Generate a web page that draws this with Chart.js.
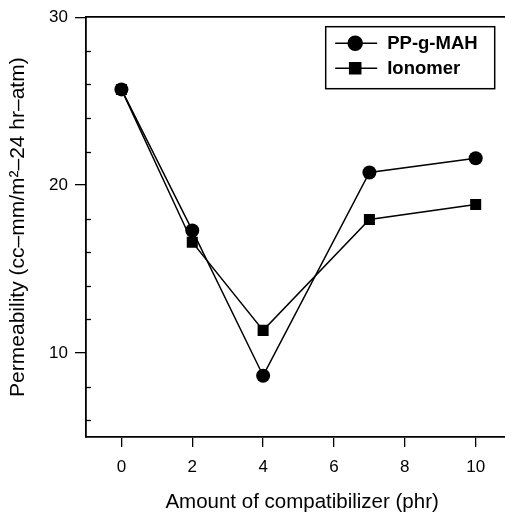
<!DOCTYPE html>
<html>
<head>
<meta charset="utf-8">
<script src="https://cdn.jsdelivr.net/npm/chart.js@4/dist/chart.umd.min.js"></script>
<style>
  html, body { margin: 0; padding: 0; background: #fff; overflow: hidden; }
  #wrap { width: 505px; height: 515px; overflow: hidden; }
</style>
</head>
<body>
<div id="wrap"><canvas id="c" width="526" height="515"></canvas></div>
<script>
// ---- data ----
const compatAmount = [0, 2, 4, 7, 10];
const ppgMah = [25.7, 17.3, 8.65, 20.75, 21.6];
const ionomer = [25.7, 16.6, 11.35, 17.95, 18.85];
const xTickValues = [0, 2, 4, 6, 8, 10];
const yMajorTicks = [10, 20, 30];
const yMinorTicks = [6, 8, 12, 14, 16, 18, 22, 24, 26, 28];
const seriesNames = ['PP-g-MAH', 'Ionomer'];
const xTitle = 'Amount of compatibilizer (phr)';
const yTitle = 'Permeability (cc\u2013mm/m\u00B2\u201324 hr\u2013atm)';

const FONT = '"Liberation Sans", Arial, Helvetica, sans-serif';

const minorTicksPlugin = {
  id: 'minorTicks',
  afterDraw(chart) {
    const ctx = chart.ctx, y = chart.scales.y, left = chart.chartArea.left;
    ctx.save();
    ctx.strokeStyle = '#000';
    ctx.lineWidth = 1.3;
    yMinorTicks.forEach(v => {
      const py = Math.round(y.getPixelForValue(v)) + 0.5;
      ctx.beginPath();
      ctx.moveTo(left, py);
      ctx.lineTo(left + 5, py);
      ctx.stroke();
    });
    ctx.restore();
  }
};

const boxLegendPlugin = {
  id: 'boxLegend',
  afterDraw(chart) {
    const ctx = chart.ctx, area = chart.chartArea;
    const bw = 169, bh = 62;
    const bx = area.right - 24 - bw, by = area.top + 9;
    ctx.save();
    ctx.strokeStyle = '#000';
    ctx.lineWidth = 1.5;
    ctx.strokeRect(bx + 0.5, by + 0.5, bw, bh);
    chart.data.datasets.forEach((ds, i) => {
      const cy = by + 17 + i * 25;
      ctx.lineWidth = 1.5;
      ctx.beginPath();
      ctx.moveTo(bx + 10, cy);
      ctx.lineTo(bx + 52, cy);
      ctx.stroke();
      ctx.fillStyle = '#000';
      Chart.helpers.drawPoint(ctx, {
        pointStyle: ds.pointStyle,
        radius: ds.pointRadius,
        borderWidth: 1
      }, bx + 30, cy);
      ctx.font = 'bold 18.5px ' + FONT;
      ctx.textBaseline = 'middle';
      ctx.textAlign = 'left';
      ctx.fillText(ds.label, bx + 62, cy + 1);
    });
    ctx.restore();
  }
};

new Chart(document.getElementById('c'), {
  type: 'line',
  data: {
    datasets: [
      {
        label: seriesNames[0],
        data: compatAmount.map((x, i) => ({ x, y: ppgMah[i] })),
        borderColor: '#000', backgroundColor: '#000',
        borderWidth: 1.5, pointStyle: 'circle', pointRadius: 7,
        pointBorderWidth: 0, tension: 0
      },
      {
        label: seriesNames[1],
        data: compatAmount.map((x, i) => ({ x, y: ionomer[i] })),
        borderColor: '#000', backgroundColor: '#000',
        borderWidth: 1.5, pointStyle: 'rect', pointRadius: 7.8,
        pointBorderWidth: 0, tension: 0
      }
    ]
  },
  options: {
    responsive: false,
    animation: false,
    devicePixelRatio: 1,
    layout: { padding: 0 },
    plugins: { legend: { display: false }, tooltip: { enabled: false } },
    scales: {
      x: {
        type: 'linear', position: 'bottom', min: -1, max: 11.2,
        afterBuildTicks: s => { s.ticks = xTickValues.map(v => ({ value: v })); },
        afterFit: s => { s.height = 78; },
        grid: { drawOnChartArea: false, drawTicks: true, tickLength: 10, color: '#000', lineWidth: 1.3 },
        border: { display: true, color: '#000', width: 1.8 },
        ticks: { color: '#000', padding: 10, font: { family: FONT, size: 17 }, maxRotation: 0 },
        title: { display: true, text: xTitle, color: '#000', font: { family: FONT, size: 20.5 }, padding: { top: 0, bottom: 0 } }
      },
      x2: {
        type: 'linear', position: 'top', min: -1, max: 11.2,
        afterFit: s => { s.height = 14; },
        grid: { display: false, drawTicks: false },
        border: { display: true, color: '#000', width: 1.8 },
        ticks: { display: false }
      },
      y: {
        type: 'linear', position: 'left', min: 5, max: 30,
        afterBuildTicks: s => { s.ticks = yMajorTicks.map(v => ({ value: v })); },
        afterFit: s => { s.width = 86; },
        grid: { drawOnChartArea: false, drawTicks: true, tickLength: 11, color: '#000', lineWidth: 1.3 },
        border: { display: true, color: '#000', width: 1.8 },
        ticks: { color: '#000', padding: 7, font: { family: FONT, size: 17 } },
        title: { display: true, text: yTitle, color: '#000', font: { family: FONT, size: 21 }, padding: { top: 6, bottom: 0 } }
      }
    }
  },
  plugins: [minorTicksPlugin, boxLegendPlugin]
});
</script>
</body>
</html>
